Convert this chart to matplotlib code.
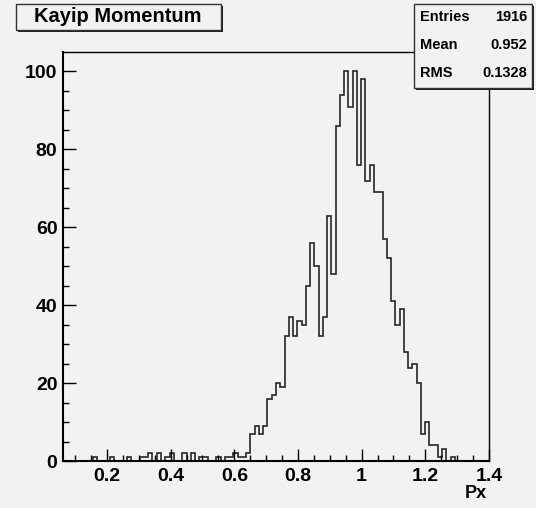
import matplotlib.pyplot as plt
import numpy as np
from matplotlib.patches import Rectangle

plt.rcParams['font.family'] = ['Liberation Sans', 'DejaVu Sans']
plt.rcParams['font.weight'] = 'bold'

# histogram contents (100 bins)
counts = [0, 0, 0, 0, 0, 0, 0, 1, 0, 0,
          0, 1, 0, 0, 0, 1, 0, 0, 1, 1,
          2, 0, 2, 0, 1, 2, 0, 0, 2, 0,
          2, 0, 1, 1, 0, 0, 1, 0, 1, 1,
          2, 1, 1, 2, 7, 9, 7, 9, 16, 17,
          20, 19, 32, 37, 32, 36, 35, 45, 56, 50,
          32, 37, 63, 48, 86, 94, 100, 91, 100, 76,
          98, 72, 76, 69, 69, 57, 52, 41, 35, 39,
          28, 24, 25, 20, 7, 10, 4, 4, 1, 3,
          0, 1, 0, 0, 0, 0, 0, 0, 0, 0]
x_min = 0.0618
x_max = 1.4
n_bins = 100
edges = np.linspace(x_min, x_max, n_bins + 1)

title = 'Kayip Momentum'
stat_names = ['Entries', 'Mean', 'RMS']
stat_values = ['1916', '0.952', '0.1328']

W, H = 536, 508
bg = '#f2f2f2'
fig = plt.figure(figsize=(W / 100, H / 100), dpi=100, facecolor=bg)

def fx(px):
    return px / W

def fy(py):
    return 1 - py / H

# frame
left, right, top, bottom = 63, 489, 52, 461
ax = fig.add_axes([fx(left), fy(bottom), fx(right - left), (bottom - top) / H])
ax.set_facecolor(bg)
ax.stairs(counts, edges, color='#262626', lw=1.2)
ax.set_xlim(x_min, x_max)
ax.set_ylim(0, 105)

ax.set_xticks([0.2, 0.4, 0.6, 0.8, 1.0, 1.2, 1.4])
ax.set_xticklabels(['0.2', '0.4', '0.6', '0.8', '1', '1.2', '1.4'])
ax.set_xticks(np.arange(0.1, 1.4, 0.05), minor=True)
ax.set_yticks([0, 20, 40, 60, 80, 100])
ax.set_yticks(np.arange(0, 105, 5), minor=True)
ax.tick_params(which='both', direction='in', top=False, right=False,
               labelsize=14, width=1)
ax.tick_params(which='major', length=9)
ax.tick_params(which='minor', length=4.5)
ax.tick_params(axis='x', pad=5)
ax.tick_params(axis='y', pad=4)
for s in ['left', 'bottom']:
    ax.spines[s].set_linewidth(1.5)
for s in ['top', 'right']:
    ax.spines[s].set_linewidth(1.0)

fig.text(fx(487), fy(494), 'Px', ha='right', va='center', fontsize=13)

# title box with shadow
fig.add_artist(Rectangle((fx(18), fy(32)), fx(221 - 16), (30 - 4) / H,
                         transform=fig.transFigure, facecolor='#222222',
                         edgecolor='none', zorder=3))
fig.add_artist(Rectangle((fx(16), fy(30)), fx(221 - 16), (30 - 4) / H,
                         transform=fig.transFigure, facecolor=bg,
                         edgecolor='#333333', lw=1, zorder=4))
fig.text(fx(118), fy(17), title, ha='center', va='center', fontsize=14.5,
         zorder=5)

# stats box with shadow
fig.add_artist(Rectangle((fx(416), fy(90)), fx(532 - 414), (88 - 4) / H,
                         transform=fig.transFigure, facecolor='#222222',
                         edgecolor='none', zorder=3))
fig.add_artist(Rectangle((fx(414), fy(88)), fx(532 - 414), (88 - 4) / H,
                         transform=fig.transFigure, facecolor=bg,
                         edgecolor='#333333', lw=1, zorder=4))
for i, (n, v) in enumerate(zip(stat_names, stat_values)):
    yy = 17 + i * 28
    fig.text(fx(420), fy(yy), n, ha='left', va='center', fontsize=10.5, zorder=5)
    fig.text(fx(527), fy(yy), v, ha='right', va='center', fontsize=10.5, zorder=5)

fig.savefig('out.png', dpi=100, facecolor=bg)
